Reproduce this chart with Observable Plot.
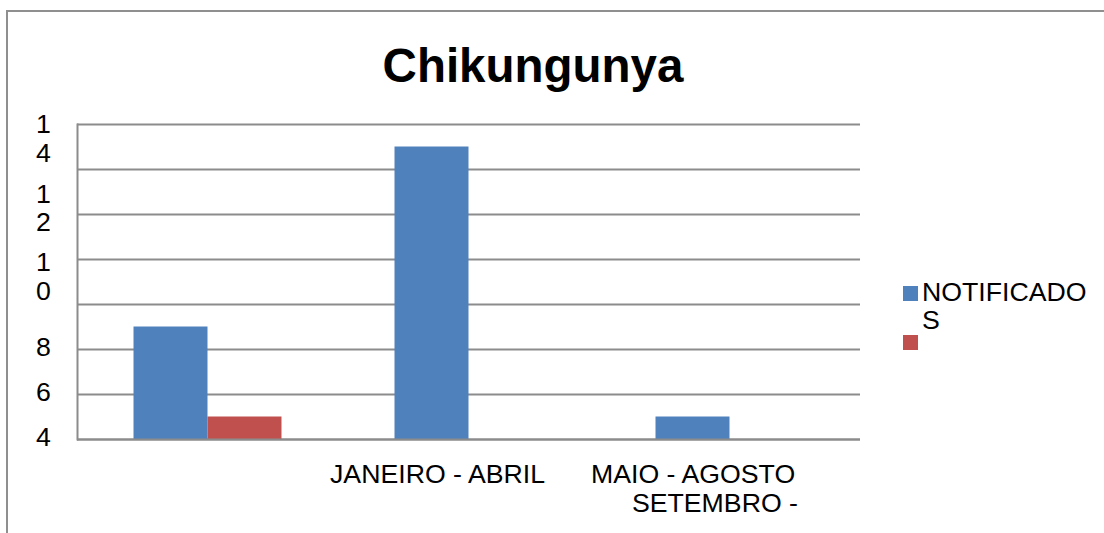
<!DOCTYPE html>
<html><head><meta charset="utf-8">
<script src="https://cdn.jsdelivr.net/npm/d3@7"></script>
<script src="https://cdn.jsdelivr.net/npm/@observablehq/plot@0.6"></script>
<style>
html,body{margin:0;padding:0;background:#fff;overflow:hidden}
#wrap{position:relative;width:1104px;height:533px;font-family:"Liberation Sans",Arial,sans-serif;color:#000;overflow:hidden}
#chart{position:absolute;left:0;top:0}
#border{position:absolute;left:6px;top:10px;width:1200px;height:600px;border-top:2px solid #8f8f8f;border-left:2px solid #8f8f8f;box-sizing:border-box}
#title{position:absolute;left:0;width:1066px;top:42px;text-align:center;font-size:47.5px;font-weight:bold;line-height:47px}
#legend{position:absolute;left:903px;top:278px;font-size:26.7px;line-height:28px}
.item{display:flex;align-items:flex-start}
.sw{width:15px;height:15px;flex:none}
.lab{white-space:pre;margin-left:4px}
</style></head><body>
<div id="wrap"><div id="chart"></div><div id="border"></div><div id="title"></div><div id="legend"></div></div>
<script>
const title = "Chikungunya";
const categories = ["P1", "P2", "P3"];
const series = ["NOTIFICADOS", ""];
const legendLabels = ["NOTIFICADO\nS", ""];
const colors = ["#4F81BD", "#C0504D"];
const notificados = [5, 13, 1];
const segundaSerie = [1, 0, 0];
const values = [notificados, segundaSerie];
const yTicks = [0, 2, 4, 6, 8, 10, 12, 14];
const yTickLabels = ["4", "6", "8", "1\n0", "1\n2", "1\n4"];
const yTickLabelAt = [0.1, 2.1, 4.1, 7.25, 10.3, 13.4];
const xTickLine1 = ["", "JANEIRO - ABRIL", "MAIO - AGOSTO"];
const xTickLine2 = ["", "", "SETEMBRO -"];

const rows = categories.flatMap((c, i) => series.map((s, j) => ({category: c, series: s, value: values[j][i]})));
const font = '"Liberation Sans", Arial, sans-serif';

const chart = Plot.plot({
  width: 1104, height: 533,
  marginLeft: 77, marginRight: 244, marginTop: 124, marginBottom: 94,
  style: {fontFamily: font, fontSize: "27px", color: "#000", background: "transparent"},
  x: {domain: categories, paddingInner: 0.433, paddingOuter: 0.2165, round: false, axis: null},
  y: {domain: [0, 14], axis: null},
  color: {domain: series, range: colors},
  marks: [
    Plot.ruleY(yTicks, {stroke: "#8c8c8c", strokeWidth: 2}),
    Plot.frame({anchor: "left", stroke: "#8c8c8c", strokeWidth: 2}),
    Plot.barY(rows.filter(d => d.series === series[0]), {x: "category", y: "value", fill: "series", insetRight: 74}),
    Plot.barY(rows.filter(d => d.series === series[1]), {x: "category", y: "value", fill: "series", insetLeft: 74}),
    Plot.ruleY([0], {stroke: "#8c8c8c", strokeWidth: 2}),
    Plot.text(yTickLabels, {y: (d, i) => yTickLabelAt[i], text: d => d, frameAnchor: "left", dx: -34, textAnchor: "middle", lineAnchor: "middle", lineHeight: 1.08, fontSize: 26.7}),
    Plot.text(categories, {x: d => d, text: (d, i) => xTickLine1[i], frameAnchor: "bottom", lineAnchor: "middle", dy: 35, dx: -139, textAnchor: "start", fontSize: 26.7}),
    Plot.text(categories, {x: d => d, text: (d, i) => xTickLine2[i], frameAnchor: "bottom", lineAnchor: "middle", dy: 64, dx: 68, textAnchor: "end", fontSize: 26.7})
  ]
});
document.getElementById("chart").appendChild(chart);
document.getElementById("title").textContent = title;

const legend = document.getElementById("legend");
series.forEach((s, i) => {
  const item = document.createElement("div");
  item.className = "item";
  const sw = document.createElement("div");
  sw.className = "sw";
  sw.style.background = colors[i];
  sw.style.marginTop = i === 0 ? "8px" : "1px";
  const lab = document.createElement("div");
  lab.className = "lab";
  lab.textContent = legendLabels[i];
  item.appendChild(sw);
  item.appendChild(lab);
  legend.appendChild(item);
});
</script>
</body></html>
